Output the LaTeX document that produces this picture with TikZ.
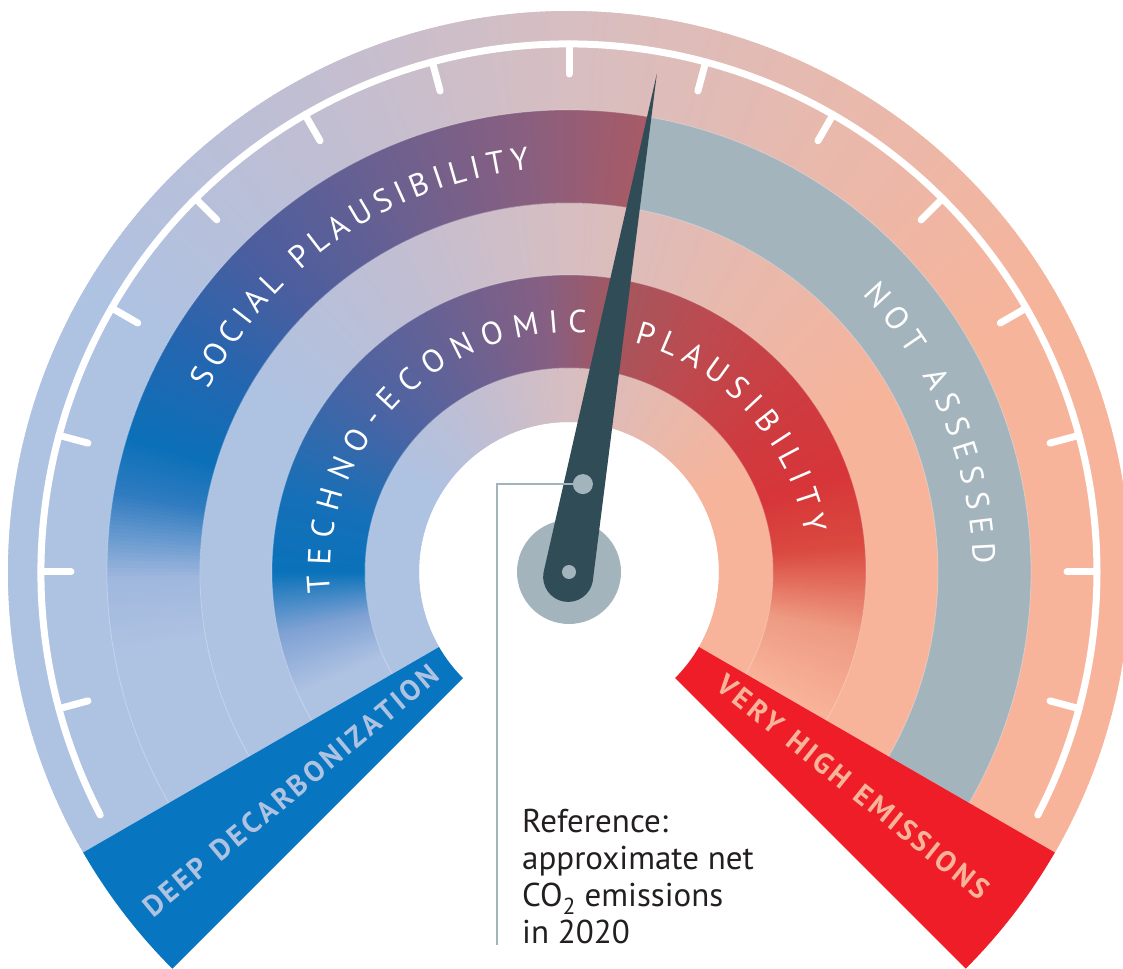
\documentclass[tikz,border=0pt]{standalone}
\usepackage{fontspec}
\usepackage{tikz}
\usepackage{xcolor}
\usetikzlibrary{calc,decorations.text}
\setmainfont{PT Sans}
\newfontfamily\bandfont{PT Sans}
\newfontfamily\ribbonfont{PT Sans Bold}
\definecolor{lightblue}{HTML}{AEC2E2}
\definecolor{salmon}{HTML}{F8B49A}
\definecolor{hubgray}{HTML}{A4B4BD}
\definecolor{needledark}{HTML}{304C57}
\definecolor{deepblue}{HTML}{0775BF}
\definecolor{hotred}{HTML}{EE1D27}
\definecolor{textdark}{HTML}{231F20}
\newcommand{\bandtype}[1]{\bandfont\fontsize{32}{38}\selectfont\kern#1pt}% spaced caps
\newcommand{\ribbontype}{\ribbonfont\fontsize{29}{34}\selectfont\kern3pt}
\newcommand{\sectorpath}[4]{% inner r, outer r, from angle, to angle
(#3:#1) arc[start angle=#3, end angle=#4, radius=#1]
  -- (#4:#2) arc[start angle=#4, end angle=#3, radius=#2] -- cycle}
\newcommand{\gradband}[3]{% inner r, outer r, stops from/colour/to/colour (angles going down)
\foreach \aa/\ca/\ab/\cb in {#3}{
    \definecolor{stopa}{HTML}{\ca}
    \definecolor{stopb}{HTML}{\cb}
    \pgfmathtruncatemacro{\nseg}{round(2*((\aa)-(\ab)))}
    \foreach \i in {1,...,\nseg}{
        \pgfmathsetmacro{\ta}{\aa-((\aa)-(\ab))*(\i-1)/\nseg}
        \pgfmathsetmacro{\tb}{\aa-((\aa)-(\ab))*\i/\nseg-0.4}
        \pgfmathsetmacro{\pc}{100*(\i-0.5)/\nseg}
        \colorlet{segcol}{stopb!\pc!stopa}
        \fill[segcol] \sectorpath{#1}{#2}{\ta}{\tb};
    }
}}
\tikzstyle{tickline} = [white, line width=7, line cap=round]
\tikzstyle{ringedge} = [white, opacity=.3, line width=.8]
\tikzstyle{bandlabel} = [
    decorate,
    decoration={text along path, text align=center, text color=white}
    ]
\tikzstyle{ribbonlabel} = [
    decorate,
    decoration={text along path, text align=center}
    ]
\tikzstyle{leader} = [hubgray, line width=2.5]
\tikzstyle{reftext} = [
    font=\fontsize{33}{37}\selectfont,
    text=textdark,
    align=left,
    inner sep=0pt
    ]

\begin{document}
\begin{tikzpicture}[x=1pt, y=1pt]
\useasboundingbox (-569,-396) rectangle (554,572);

% light rings behind everything
\gradband{150}{561}{210/AEC2E2/150/AEC2E2, 150/AEC2E2/120/C0BED3, 120/C0BED3/90/D7BEC1,
    90/D7BEC1/60/E8B9AD, 60/E8B9AD/30/F6B49B, 30/F6B49B/-30/F8B49A}
% social plausibility band
\gradband{369}{462}{210/AEC2E2/190/AEC2E2, 190/AEC2E2/181/A0B8DE, 181/A0B8DE/170/2F7BC0,
    170/2F7BC0/163/0B70B8, 163/0B70B8/150/2466B0, 150/2466B0/135/4B5E9F, 135/4B5E9F/115/6B6090,
    115/6B6090/95/8A5F7F, 95/8A5F7F/80/A85A66}
\fill[hubgray] \sectorpath{369}{462}{80}{-30};
% techno-economic band
\gradband{204}{297}{210/AEC2E2/204/AEC2E2, 204/AEC2E2/192/7FA2D4, 192/7FA2D4/180/0A72BA,
    180/0A72BA/165/1570B8, 165/1570B8/140/4A64A4, 140/4A64A4/115/6B6192, 115/6B6192/95/865F83,
    95/865F83/80/A4575F, 80/A4575F/60/BD4A4F, 60/BD4A4F/40/CC3D41, 40/CC3D41/20/D73539,
    20/D73539/5/DA4A40, 5/DA4A40/-12/EE9A82, -12/EE9A82/-30/F8B49A}
\foreach \r in {204,297,369,462}
    \draw[ringedge] (210:\r) arc[start angle=210, end angle=-30, radius=\r];

% end ribbons
\fill[deepblue] \sectorpath{150}{561}{210}{225};
\fill[hotred] \sectorpath{150}{561}{-30}{-45};

% scale
\draw[tickline] (207.4:528) arc[start angle=207.4, end angle=-27.4, radius=528];
\foreach \a in {195,180,...,-15}
    \draw[tickline] (\a:498) -- (\a:528);

% labels
\path[bandlabel, decoration={text={|\bandtype{5.9}|SOCIAL PLAUSIBILITY}}]
    (185:404) arc[start angle=185, end angle=64.6, radius=404];
\path[bandlabel, decoration={text={|\bandtype{9.3}|TECHNO-ECONOMIC}}]
    (215:239) arc[start angle=215, end angle=58, radius=239];
\path[bandlabel, decoration={text={|\bandtype{7.4}|PLAUSIBILITY}}]
    (100:239) arc[start angle=100, end angle=-15, radius=239];
\path[bandlabel, decoration={text={|\bandtype{7.9}|NOT ASSESSED}}]
    (75:404) arc[start angle=75, end angle=-29.4, radius=404];
\path[ribbonlabel, decoration={text color=lightblue, text={|\ribbontype|DEEP DECARBONIZATION}}]
    (219.8:600) -- (219.8:110);
\path[ribbonlabel, decoration={text color=salmon, text={|\ribbontype|VERY HIGH EMISSIONS}}]
    (-38.7:110) -- (-38.7:600);

% needle
\node[circle, fill=hubgray, minimum size=104, inner sep=0] (hub) at (0,0) {};
\coordinate (needletip) at (80:506);
\fill[needledark] (needletip) -- ($(260:5)+(-10:25)$)
    arc[start angle=-10, end angle=-190, radius=25] -- cycle;
\node[circle, fill=hubgray, minimum size=14, inner sep=0] (pivot) at (0,0) {};
\node[circle, fill=hubgray, minimum size=20, inner sep=0] (refdot) at (81:89) {};

% reference note
\coordinate (leaderend) at (-72,-373);
\draw[leader] (refdot) -| (leaderend);
\node[reftext, anchor=north west] (note) at (-47,-237)
    {Reference:\\approximate net\\CO\textsubscript{2} emissions\\in 2020};
\end{tikzpicture}
\end{document}
